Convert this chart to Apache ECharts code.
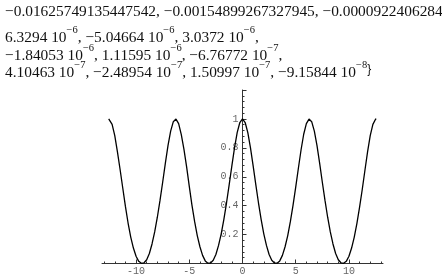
<!DOCTYPE html>
<html>
<head>
<meta charset="utf-8">
<script src="https://cdn.jsdelivr.net/npm/echarts@6/dist/echarts.min.js"></script>
<style>
html,body{margin:0;padding:0;background:#fff;}
#c{width:442px;height:275px;}
</style>
</head>
<body>
<div id="c"></div>
<script>
// ---- data ----
const xs = [-12.57,-12.5,-12.25,-12.0,-11.75,-11.5,-11.25,-11.0,-10.75,-10.5,-10.25,-10.0,-9.75,-9.5,-9.25,-9.0,-8.75,-8.5,-8.25,-8.0,-7.75,-7.5,-7.25,-7.0,-6.75,-6.5,-6.25,-6.0,-5.75,-5.5,-5.25,-5.0,-4.75,-4.5,-4.25,-4.0,-3.75,-3.5,-3.25,-3.0,-2.75,-2.5,-2.25,-2.0,-1.75,-1.5,-1.25,-1.0,-0.75,-0.5,-0.25,0,0.25,0.5,0.75,1.0,1.25,1.5,1.75,2.0,2.25,2.5,2.75,3.0,3.25,3.5,3.75,4.0,4.25,4.5,4.75,5.0,5.25,5.5,5.75,6.0,6.25,6.5,6.75,7.0,7.25,7.5,7.75,8.0,8.25,8.5,8.75,9.0,9.25,9.5,9.75,10.0,10.25,10.5,10.75,11.0,11.25,11.5,11.75,12.0,12.25,12.5,12.57];
const ys = [1.0,0.998,0.962,0.885,0.772,0.650,0.522,0.395,0.280,0.183,0.107,0.050,0.015,0.001,0.005,0.026,0.069,0.135,0.218,0.320,0.436,0.562,0.692,0.815,0.916,0.981,0.999,0.968,0.892,0.790,0.668,0.533,0.404,0.291,0.193,0.116,0.056,0.018,0.002,0.003,0.022,0.062,0.125,0.205,0.305,0.420,0.545,0.675,0.800,0.905,0.975,1.0,0.975,0.905,0.800,0.675,0.545,0.420,0.305,0.205,0.125,0.062,0.022,0.003,0.002,0.018,0.056,0.116,0.193,0.291,0.404,0.528,0.659,0.785,0.894,0.968,0.999,0.981,0.916,0.815,0.692,0.562,0.436,0.320,0.218,0.135,0.069,0.026,0.005,0.001,0.015,0.050,0.107,0.183,0.278,0.390,0.512,0.643,0.772,0.885,0.962,0.998,1.0];
const xTickLabels = [-10,-5,0,5,10];
const xMinorTicks = [-13,-12,-11,-9,-8,-7,-6,-4,-3,-2,-1,1,2,3,4,6,7,8,9,11,12,13];
const yTickLabels = [0.2,0.4,0.6,0.8,1];
const textLine1 = "{a|−0.01625749135447542, −0.00154899267327945, −0.00009224062849}";
const textLine2 = "{a|6.3294 10}{s|−6}{a|, −5.04664 10}{s|−6}{a|, 3.0372 10}{s|−6}{a|,}";
const textLine3 = "{a|−1.84053 10}{s|−6}{a|, 1.11595 10}{s|−6}{a|, −6.76772 10}{s|−7}{a|,}";
const textLine4 = "{a|4.10463 10}{s|−7}{a|, −2.48954 10}{s|−7}{a|, 1.50997 10}{s|−7}{a|, −9.15844 10}{s|−8}{a|}}";

const rich = {
  a: {fontFamily: 'Liberation Serif', fontSize: 15.4, lineHeight: 20, color: '#111', verticalAlign: 'bottom'},
  s: {fontFamily: 'Liberation Serif', fontSize: 10.5, lineHeight: 10, color: '#111', verticalAlign: 'top'}
};
function textEl(str, y) {
  return {type: 'text', left: 5, top: y, style: {text: str, rich: rich, fill: '#111'}};
}

const X_MIN = -13.2, X_MAX = 13.2;
const GRID_LEFT = 102, GRID_W = 281;
const chart = echarts.init(document.getElementById('c'));
const monoLabel = {fontFamily: 'Liberation Mono', fontSize: 10, color: '#666'};
chart.setOption({
  animation: false,
  backgroundColor: '#fff',
  grid: {left: GRID_LEFT, width: GRID_W, top: 90, bottom: 11.5, containLabel: false, outerBoundsMode: 'none'},
  xAxis: [{
    type: 'value', min: X_MIN, max: X_MAX, position: 'bottom',
    axisLine: {show: true, onZero: true, lineStyle: {color: '#333', width: 1}},
    axisTick: {show: true, inside: true, length: 4, customValues: xTickLabels, lineStyle: {color: '#333'}},
    axisLabel: Object.assign({show: true, margin: 3, customValues: xTickLabels,
      formatter: v => (v < 0 ? '-' + Math.abs(v) : String(v))}, monoLabel),
    splitLine: {show: false}
  }, {
    type: 'value', min: X_MIN, max: X_MAX, position: 'bottom',
    axisLine: {show: false},
    axisTick: {show: true, inside: true, length: 2, customValues: xMinorTicks, lineStyle: {color: '#333'}},
    axisLabel: {show: false},
    splitLine: {show: false}
  }],
  yAxis: {
    type: 'value', min: 0, max: 1.2, interval: 0.2, position: 'left',
    // place the y axis at x = 0 of the x scale
    offset: -((0 - X_MIN) / (X_MAX - X_MIN)) * GRID_W,
    axisLine: {show: true, onZero: false, lineStyle: {color: '#333', width: 1}},
    axisTick: {show: true, inside: true, length: 4, lineStyle: {color: '#333'}},
    minorTick: {show: true, splitNumber: 5, length: 2, lineStyle: {color: '#333'}},
    axisLabel: Object.assign({show: true, margin: 4, customValues: yTickLabels,
      formatter: v => String(v)}, monoLabel),
    splitLine: {show: false},
    minorSplitLine: {show: false}
  },
  series: [{
    type: 'line', xAxisIndex: 0, yAxisIndex: 0,
    data: xs.map((x, i) => [x, ys[i]]),
    showSymbol: false, symbol: 'none', smooth: false,
    lineStyle: {color: '#000', width: 1.3}
  }],
  graphic: [
    textEl(textLine1, 4),
    textEl(textLine2, 25),
    textEl(textLine3, 43),
    textEl(textLine4, 60)
  ]
});
</script>
</body>
</html>
